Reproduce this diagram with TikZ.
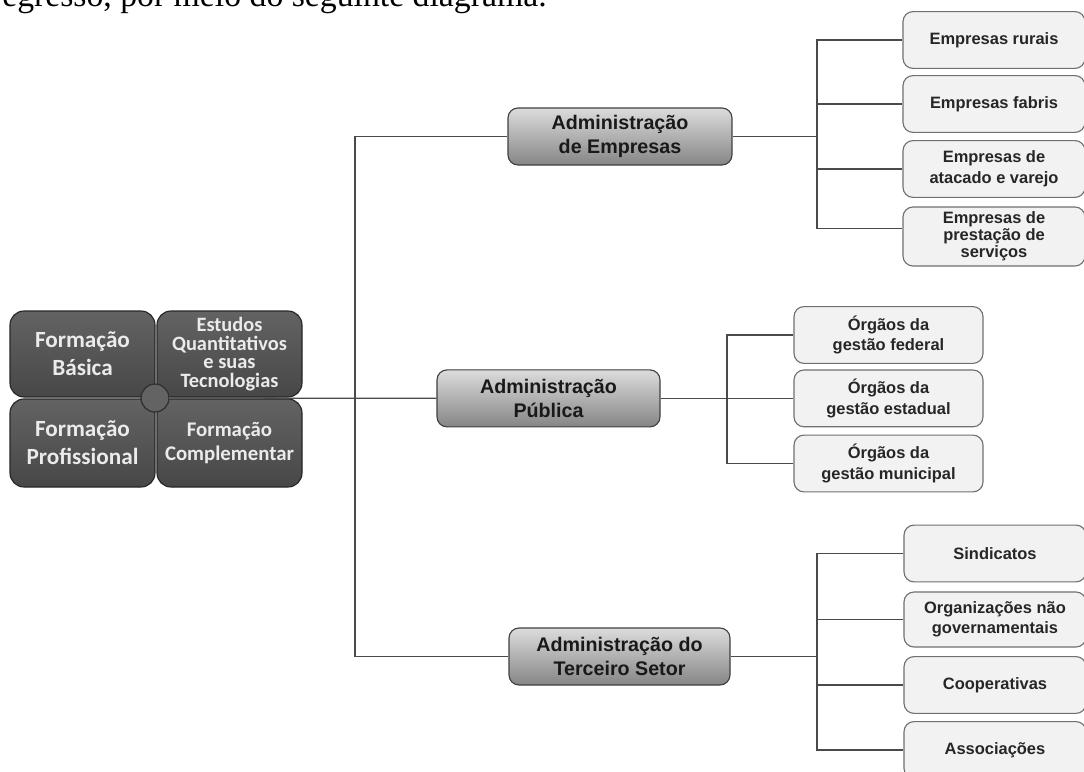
\documentclass[tikz,border=0pt]{standalone}
\usepackage{fontspec}
\setmainfont{Liberation Sans}
\newfontfamily\carlito{Carlito}
\newfontfamily\introserif{Liberation Serif}
\usepackage{tikz}
\definecolor{linkgray}{HTML}{4A4A4A}
\definecolor{leafborder}{HTML}{707070}
\definecolor{leaffill}{HTML}{F2F2F2}
\definecolor{admtop}{HTML}{DCDCDC}
\definecolor{admbot}{HTML}{858585}
\definecolor{darktop}{HTML}{636363}
\definecolor{darkbot}{HTML}{474747}

\begin{document}
\begin{tikzpicture}[
  dark/.style={draw=black!85, line width=0.8pt, rounded corners=0.35cm, top color=darktop, bottom color=darkbot, minimum width=3.625cm, minimum height=2.15cm, inner sep=0pt, align=center, text=white!92!black, font=\carlito\bfseries\fontsize{16.5}{20}\selectfont},
  adm/.style={draw=black!75, line width=0.8pt, rounded corners=0.25cm, top color=admtop, bottom color=admbot, minimum width=5.6cm, minimum height=1.425cm, inner sep=0pt, align=center, text=black!90, font=\bfseries\fontsize{14}{17}\selectfont},
  leaf/.style={draw=leafborder, line width=0.8pt, fill=leaffill, rounded corners=0.25cm, minimum width=4.55cm, minimum height=1.42cm, inner sep=0pt, align=center, text=black!85, font=\bfseries\fontsize{11.7}{14.6}\selectfont},
  link/.style={draw=linkgray, line width=0.9pt}]
\useasboundingbox (0,0) rectangle (27.1,-19.275);
\clip (0,0) rectangle (27.1,-19.275);
\fill[white] (0,0) rectangle (27.1,-19.275);
\node[anchor=base west, inner sep=0pt, font=\introserif\fontsize{24}{28}\selectfont] (intro) at (0.05,-0.15) {egresso, por meio do seguinte diagrama.};
% Formação
\node[dark] (fb) at (2.0625,-8.85) {Formação\\Básica};
\node[dark, font=\carlito\bfseries\fontsize{14.5}{13.4}\selectfont] (eq) at (5.7375,-8.85) {Estudos\\Quantitativos\\e suas\\Tecnologias};
\node[dark, minimum height=2.2cm] (fp) at (2.0625,-11.075) {Formação\\Profissional};
\node[dark, minimum height=2.2cm, font=\carlito\bfseries\fontsize{14.8}{16.6}\selectfont] (fc) at (5.7375,-11.075) {Formação\\Complementar};
\node[circle, draw=black!80, line width=1pt, fill=darktop, minimum size=0.7cm, inner sep=0pt] (hub) at (3.875,-9.95) {};
% Administração
\node[adm] (ae) at (15.5,-3.4125) {Administração\\de Empresas};
\node[adm, minimum width=5.575cm] (ap) at (13.7125,-9.96) {Administração\\Pública};
\node[adm, minimum width=5.525cm] (at) at (15.4875,-16.4125) {Administração do\\Terceiro Setor};
% Empresas
\node[leaf] (er) at (24.85,-1.0) {Empresas rurais};
\node[leaf] (ef) at (24.85,-2.6) {Empresas fabris};
\node[leaf] (eav) at (24.85,-4.225) {Empresas de\\atacado e varejo};
\node[leaf, minimum height=1.475cm, font=\bfseries\fontsize{11.7}{12}\selectfont] (eps) at (24.85,-5.9125) {Empresas de\\prestação de\\serviços};
% Órgãos
\node[leaf, minimum width=4.725cm] (og1) at (22.2125,-8.375) {Órgãos da\\gestão federal};
\node[leaf, minimum width=4.725cm] (og2) at (22.2125,-9.96) {Órgãos da\\gestão estadual};
\node[leaf, minimum width=4.725cm] (og3) at (22.2125,-11.5875) {Órgãos da\\gestão municipal};
% Terceiro setor
\node[leaf] (si) at (24.875,-13.8375) {Sindicatos};
\node[leaf, minimum height=1.375cm] (ong) at (24.875,-15.4875) {Organizações não\\governamentais};
\node[leaf] (co) at (24.875,-17.125) {Cooperativas};
\node[leaf] (as) at (24.875,-18.75) {Associações};
% links
\coordinate (tr) at (8.875,-9.96);
\coordinate (je) at (20.425,-3.4125);
\coordinate (jp) at (18.175,-9.96);
\coordinate (jt) at (20.425,-16.4125);
\draw[link] (hub) -- (ap);
\draw[link] (ae) -| (tr) |- (at);
\draw[link] (ae) -- (je);
\draw[link] (ap) -- (jp);
\draw[link] (at) -- (jt);
\foreach \n in {er,ef,eav} \draw[link] (je) |- (\n);
\draw[link] (je) |- ([yshift=0.2cm]eps.west);
\foreach \n in {og1,og2,og3} \draw[link] (jp) |- (\n);
\foreach \n in {si,ong,co,as} \draw[link] (jt) |- (\n);
\end{tikzpicture}
\end{document}
